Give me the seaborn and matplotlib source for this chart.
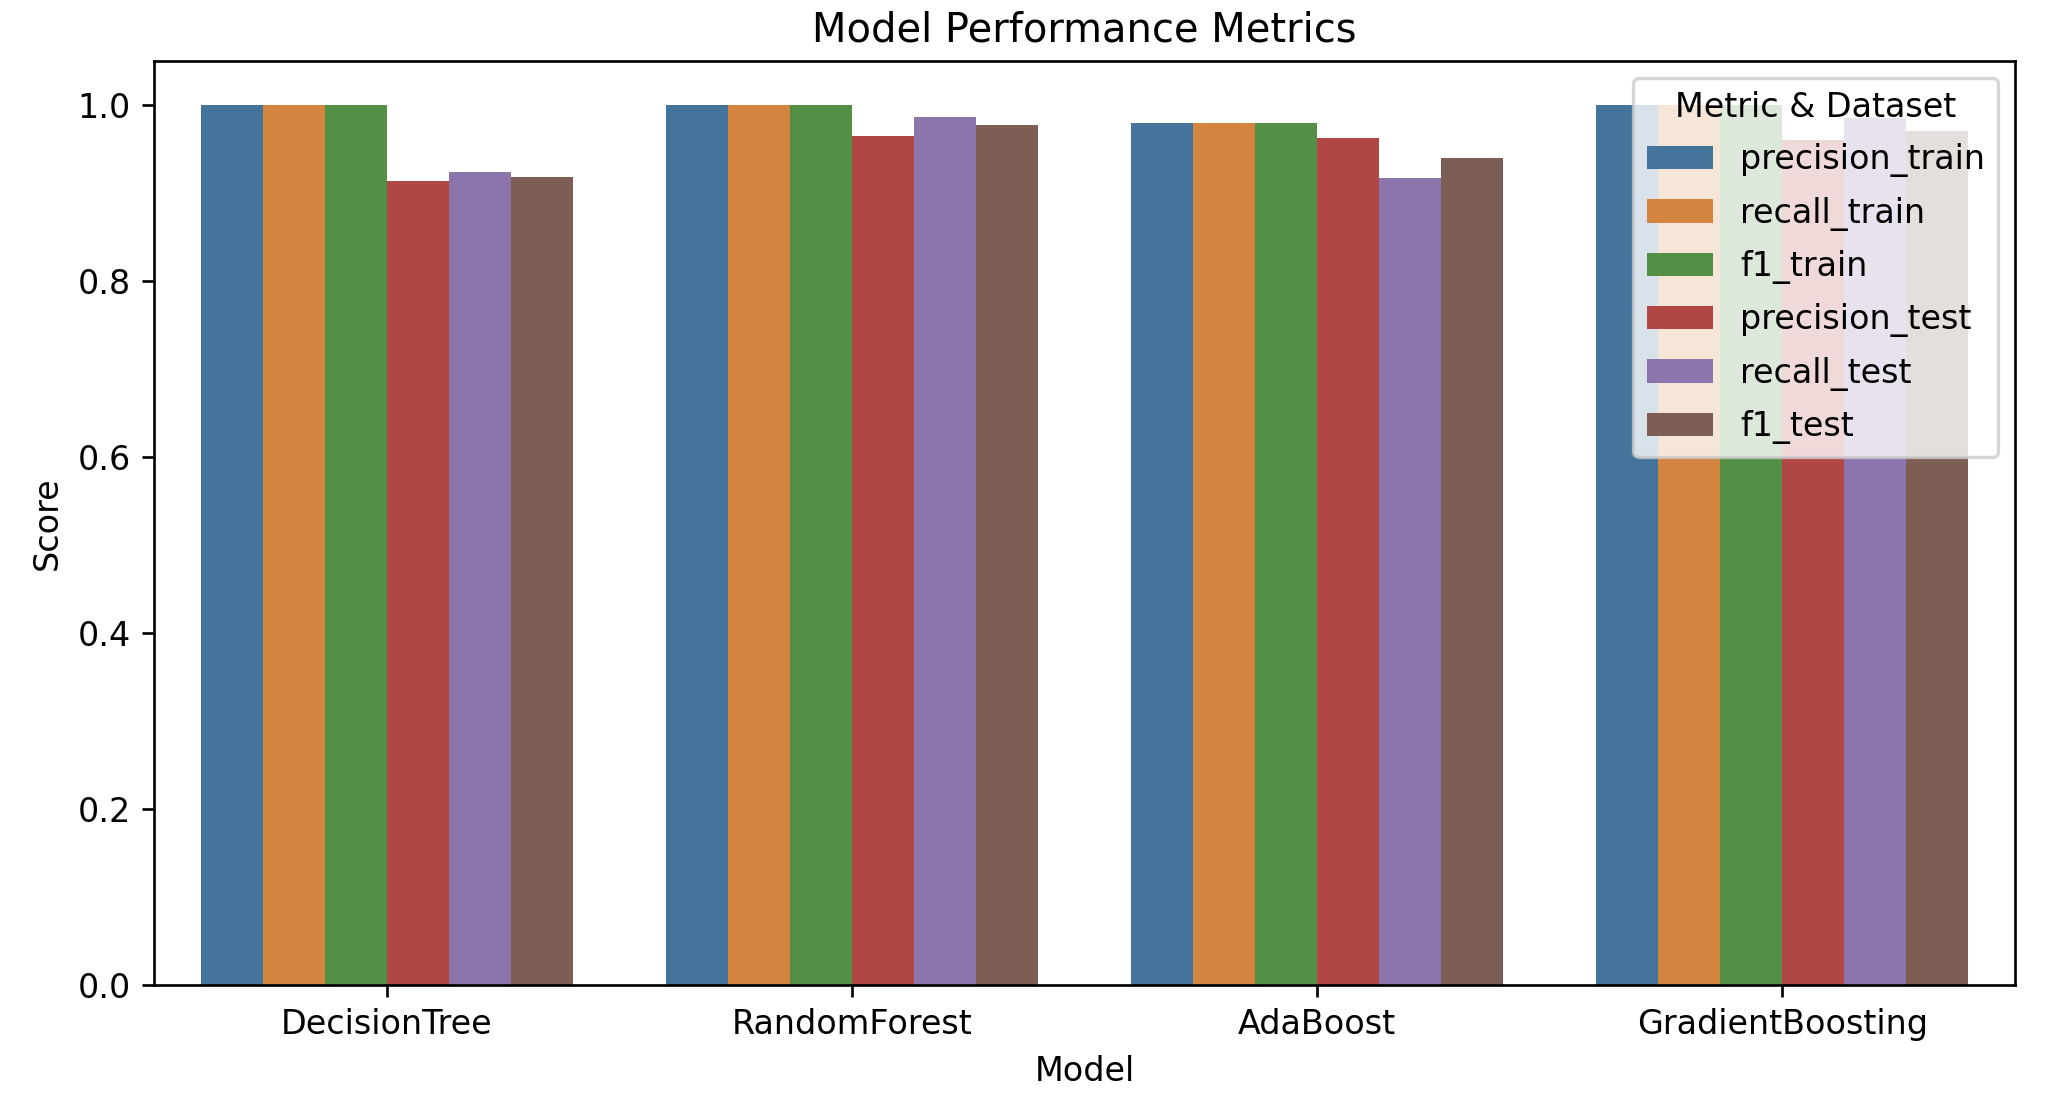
import matplotlib
matplotlib.use("Agg")
import matplotlib.pyplot as plt
from matplotlib.patches import Patch
import seaborn as sns
import pandas as pd

models = ["DecisionTree", "RandomForest", "AdaBoost", "GradientBoosting"]
metrics = ["precision_train", "recall_train", "f1_train",
           "precision_test", "recall_test", "f1_test"]

precision_train = [1.000, 1.000, 0.979, 1.000]
recall_train = [1.000, 1.000, 0.979, 1.000]
f1_train = [1.000, 1.000, 0.979, 1.000]
precision_test = [0.914, 0.965, 0.963, 0.960]
recall_test = [0.924, 0.986, 0.917, 0.985]
f1_test = [0.918, 0.977, 0.940, 0.971]

series = [precision_train, recall_train, f1_train,
          precision_test, recall_test, f1_test]

rows = []
for metric, vals in zip(metrics, series):
    for m, v in zip(models, vals):
        rows.append({"Model": m, "Metric & Dataset": metric, "Score": v})
df = pd.DataFrame(rows)

palette = ["#44739b", "#d38540", "#548f46", "#b14745", "#8c74ac", "#7d5e54"]

fig = plt.figure(figsize=(2070 / 240, 1106 / 240), dpi=240)
ax = fig.add_axes([154 / 2070, 1 - 985 / 1106, (2015 - 154) / 2070, (985 - 61) / 1106])

sns.barplot(data=df, x="Model", y="Score", hue="Metric & Dataset",
            order=models, hue_order=metrics, palette=palette,
            saturation=1, ax=ax)

ax.set_title("Model Performance Metrics")
ax.set_xlabel("Model")
ax.set_ylabel("Score")
handles = [Patch(facecolor=c, label=m) for c, m in zip(palette, metrics)]
ax.legend(handles=handles, title="Metric & Dataset", loc="upper right",
          labelspacing=0.58)

fig.savefig("out.png", dpi=240)
